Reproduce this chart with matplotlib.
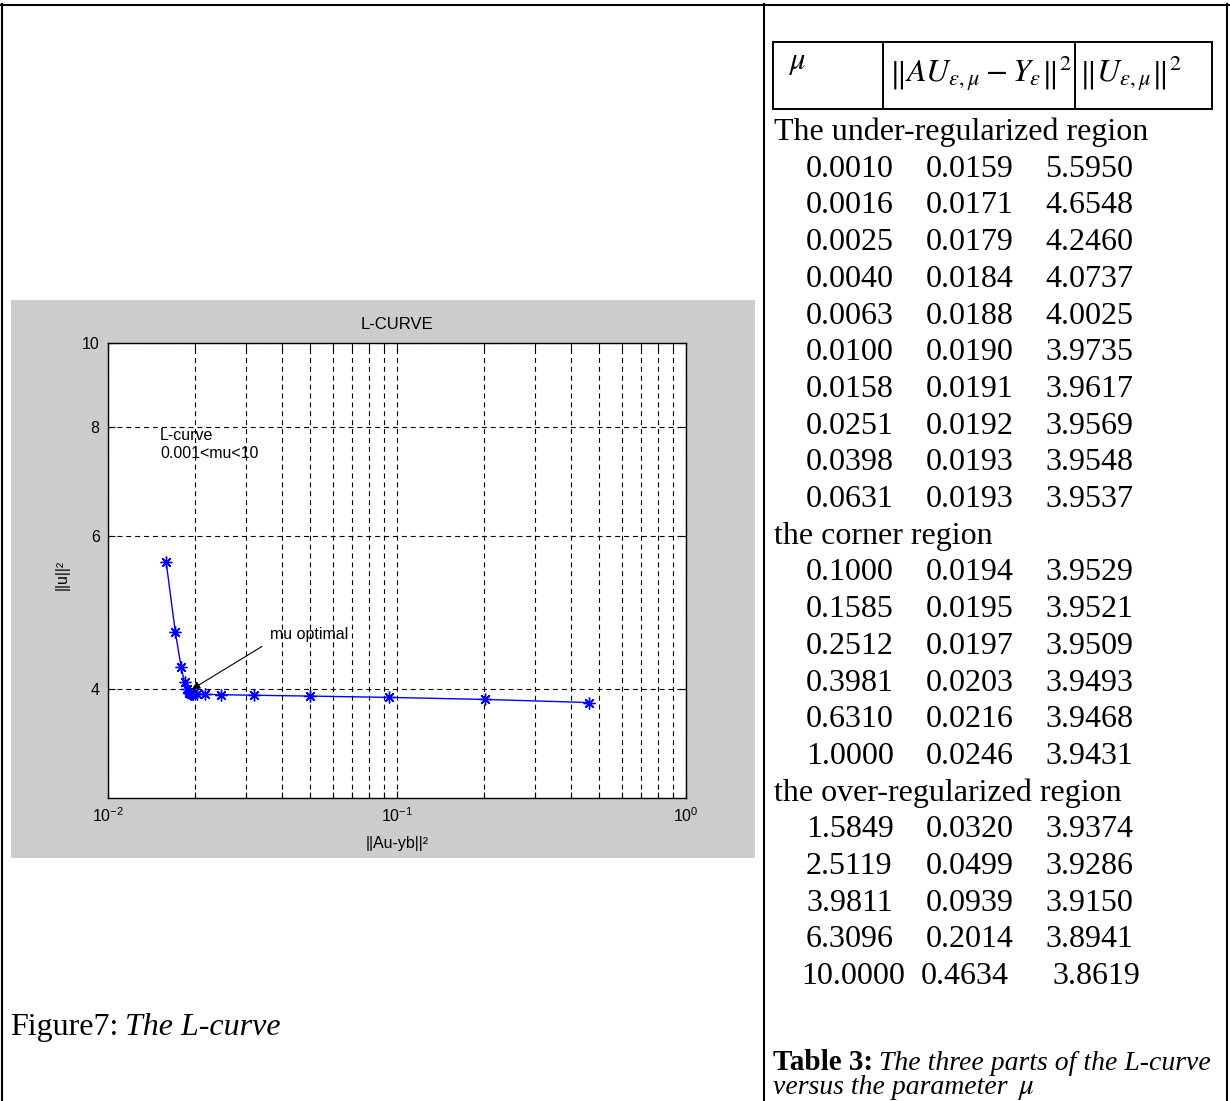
import numpy as np
import matplotlib.pyplot as plt
from matplotlib.patches import Rectangle
from matplotlib.lines import Line2D
from matplotlib.transforms import Affine2D
from matplotlib.ticker import LogLocator, NullFormatter, NullLocator

# Table 3 data: mu, ||AU - Y||^2, ||U||^2
mu = [0.0010, 0.0016, 0.0025, 0.0040, 0.0063, 0.0100, 0.0158, 0.0251, 0.0398, 0.0631,
      0.1000, 0.1585, 0.2512, 0.3981, 0.6310, 1.0000,
      1.5849, 2.5119, 3.9811, 6.3096, 10.0000]
residual = [0.0159, 0.0171, 0.0179, 0.0184, 0.0188, 0.0190, 0.0191, 0.0192, 0.0193, 0.0193,
            0.0194, 0.0195, 0.0197, 0.0203, 0.0216, 0.0246,
            0.0320, 0.0499, 0.0939, 0.2014, 0.4634]
solnorm = [5.5950, 4.6548, 4.2460, 4.0737, 4.0025, 3.9735, 3.9617, 3.9569, 3.9548, 3.9537,
           3.9529, 3.9521, 3.9509, 3.9493, 3.9468, 3.9431,
           3.9374, 3.9286, 3.9150, 3.8941, 3.8619]
sections = ["The under-regularized region", "the corner region", "the over-regularized region"]
section_sizes = [10, 6, 5]

yticks = [4, 6, 8, 10]
xticks = [1e-2, 1e-1, 1e0]
xtick_labels = [r"$\mathregular{10^{-2}}$", r"$\mathregular{10^{-1}}$", r"$\mathregular{10^{0}}$"]

plt.rcParams['font.family'] = ['Liberation Sans', 'DejaVu Sans']
plt.rcParams['lines.scale_dashes'] = False

W, H = 1230, 1101
fig = plt.figure(figsize=(W / 100, H / 100), dpi=100)
# pixel coords, y pointing down
pix = Affine2D().scale(1 / W, -1 / H).translate(0, 1) + fig.transFigure
serif = ['Liberation Serif', 'DejaVu Serif']
fs = 11.5  # plot font size


def hline(x0, x1, y, lw=1.5):
    fig.add_artist(Line2D([x0, x1], [y, y], transform=pix, color='k', lw=lw))


def vline(x, y0, y1, lw=1.5):
    fig.add_artist(Line2D([x, x], [y0, y1], transform=pix, color='k', lw=lw))


def text_run(x, y, parts, gap=0):
    renderer = fig.canvas.get_renderer()
    for s, kw in parts:
        t = fig.text(x, y, s, transform=pix, va='baseline', **kw)
        x = t.get_window_extent(renderer).x1 + gap


# page frame
hline(1, 1229, 5)
vline(2, 4, 1101)
vline(764, 4, 1101)
vline(1227, 4, 1101)

# grey matlab figure panel
fig.add_artist(Rectangle((11, 300), 744, 558, transform=pix,
                         facecolor='#cccccc', edgecolor='none', zorder=0))

ax = fig.add_axes([108 / W, 1 - 798 / H, 578 / W, 455 / H])
ax.set_facecolor('white')
ax.loglog(residual, solnorm, '-', color='b', lw=1,
          marker=(8, 2, 0), ms=8.5, mew=1)
ax.set_xlim(1e-2, 1)
ax.set_ylim(3, 10)
ax.set_xticks(xticks, xtick_labels)
ax.xaxis.set_minor_locator(LogLocator(base=10, subs=range(2, 10)))
ax.xaxis.set_minor_formatter(NullFormatter())
ax.set_yticks(yticks, [str(t) for t in yticks])
ax.yaxis.set_minor_locator(NullLocator())
ax.yaxis.set_minor_formatter(NullFormatter())

dash = (0, (3.6, 2.8))
ax.grid(True, which='both', axis='x', color='k', linestyle=dash, lw=0.8)
ax.grid(True, which='major', axis='y', color='k', linestyle=dash, lw=0.8)
ax.tick_params(which='both', direction='in', top=True, right=True,
               width=0.8, labelsize=fs)
ax.tick_params(which='major', length=5)
ax.tick_params(which='minor', length=4)
ax.tick_params(axis='x', pad=6)
ax.tick_params(axis='y', pad=6)
for sp in ax.spines.values():
    sp.set_linewidth(1)

ax.set_title('L-CURVE', fontsize=12, pad=10)
ax.set_xlabel('||Au-yb||²', fontsize=fs)
ax.set_ylabel('||u||²', fontsize=fs)
ax.xaxis.set_label_coords(0.5, -0.099)
ax.xaxis.label.set_va('center')
ax.yaxis.set_label_coords(-0.08, 0.49)
ax.yaxis.label.set_va('center')

ax.text(0.01513, 7.98, 'L-curve\n0.001<mu<10', fontsize=fs, va='top', ha='left',
        linespacing=1.2)
ax.text(0.0364, 4.63, 'mu optimal', fontsize=fs, va='center', ha='left')
ax.annotate('', xy=(0.0195, 4.0), xytext=(0.0341, 4.48),
            arrowprops=dict(arrowstyle='-|>', color='k', lw=0.8,
                            shrinkA=0, shrinkB=0, mutation_scale=12))

# figure caption
text_run(10, 1035, [("Figure7:", dict(family=serif, fontsize=23)),
                    ("The L-curve", dict(family=serif, fontsize=23, style='italic'))], gap=7)

# table header
hx = [773, 883, 1075, 1212]
hy0, hy1 = 42, 109
hline(hx[0], hx[-1], hy0, lw=1.4)
hline(hx[0], hx[-1], hy1, lw=1.4)
for x in hx:
    vline(x, hy0, hy1, lw=1.4)
fig.text(788, 62, r'$\mu$', transform=pix, fontsize=22, va='center', ha='left',
         math_fontfamily='stix')
fig.text(889, 82, r'$\left\Vert AU_{\varepsilon,\mu}-Y_{\varepsilon}\right\Vert^{2}$',
         transform=pix, fontsize=23, va='baseline', ha='left', math_fontfamily='stix')
fig.text(1079, 82, r'$\left\Vert U_{\varepsilon,\mu}\right\Vert^{2}$',
         transform=pix, fontsize=23, va='baseline', ha='left', math_fontfamily='stix')

# table body
row_h = 36.7
y = 140
start = 0
for name, n in zip(sections, section_sizes):
    fig.text(774, y, name, transform=pix, family=serif, fontsize=23, va='baseline')
    y += row_h
    for i in range(start, start + n):
        cols = [806, 926, 1045] if mu[i] < 10 else [801, 921, 1052]
        for cx, v in zip(cols, (mu[i], residual[i], solnorm[i])):
            fig.text(cx, y, f'{v:.4f}', transform=pix, family=serif, fontsize=23,
                     va='baseline')
        y += row_h
    start += n

# table caption
text_run(773, 1070, [("Table 3:", dict(family=serif, fontsize=21, weight='bold')),
                     ("The three parts of the L-curve",
                      dict(family=serif, fontsize=20, style='italic'))], gap=6)
text_run(773, 1094, [("versus the parameter", dict(family=serif, fontsize=20, style='italic')),
                     (r'$\mu$', dict(fontsize=21, math_fontfamily='stix'))], gap=10)

fig.savefig('out.png', dpi=100)
